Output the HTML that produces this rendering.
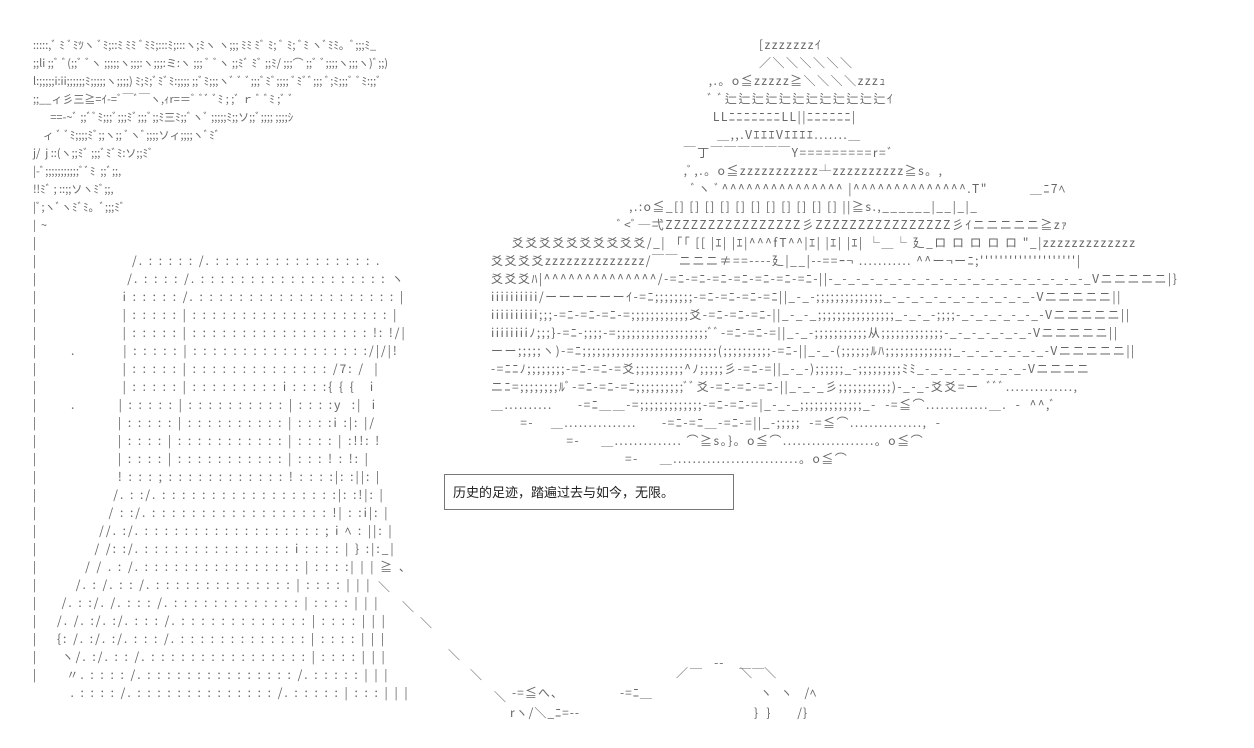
<!DOCTYPE html>
<html><head><meta charset="utf-8"><style>
html,body{margin:0;padding:0;background:#fff;width:1254px;height:748px;overflow:hidden}
pre{position:absolute;margin:0;font-family:"Noto Sans CJK JP","WenQuanYi Zen Hei",sans-serif;line-height:18px;color:#666;white-space:pre}
.l{font-size:11px;letter-spacing:0px}
.f{font-size:12px;letter-spacing:2px}
.s{font-size:12px;letter-spacing:1.5px}
.a{position:absolute;font-family:"Noto Sans CJK JP",sans-serif;font-size:12px;color:#666;white-space:pre;line-height:18px;letter-spacing:1px}
.box{position:absolute;left:444px;top:474px;width:290px;height:36px;border:1px solid #777;font-family:"Liberation Sans","Noto Sans CJK SC",sans-serif;font-size:13px;line-height:36px;padding-left:8px;box-sizing:border-box;color:#222}
</style></head><body>
<pre class="l" style="left:33px;top:36px">:::::,ﾞ ﾐ ﾞﾐﾂヽ ﾞﾐ;::ﾐ ﾐﾐ ﾞﾐﾐ;:::ﾐ;:::ヽ;ﾐヽ ヽ;;; ﾐﾐ ﾐﾞ ﾐ; ﾞ ﾐ; ﾞﾐ ヽﾞﾐﾐ。ﾞ;;;ﾐ_
;;li ;;ﾞ ﾞ(;;ﾞ ﾞヽ ;;;;;ヽ;;;:ヽ;;;:ミ:ヽ ;;; ﾞ ﾞヽ ;;ﾐﾞ ﾐﾞ ;;ﾐ/ ;;;⌒ ;;ﾞ ﾞ;;;;ヽ;;;ヽ)ﾞ;;)
l:;;;;;i:ii;;;;;;ﾐ;;;;;ヽ;;;;) ﾐ;ﾐ;ﾞﾐﾞﾐ:;;;; ;;ﾞﾐ;;;ヽﾞ ﾞ ﾞ;;;ﾞﾐﾞ;;;; ﾞﾐﾞﾞ;;; ﾞ;ﾐ;;;ﾞ ﾞﾐ:;;ﾞ
;;__ィ彡三≧=ｲ-=ﾞ￣ﾞ￣ヽ,ｨr=＝ﾞ ﾞﾞ ﾞﾐ ; ;ﾞ ｒ ﾞ ﾞﾐ ;ﾞ ﾞ
       ==-~ﾞ ;;ﾞﾞﾐ;;;ﾞ;;;ﾐﾞ;;;ﾞ;;ﾐ三ﾐ;;ﾞヽﾞ ;;;;;ﾐ;;ソ;;ﾞ;;;; ;;;;ｼ
    ィ ﾞ ﾞﾐ;;;;ﾐﾞ;;ヽ;; ﾞヽﾞ;;;;ソィ;;;;ヽﾞﾐﾞ
j/  j ::(ヽ;;ﾐﾞ ;;;ﾞﾐﾞﾐ:ソ;;ﾐﾞ
|-ﾞ;;;;;;;;;;;ﾞﾞﾐ  ;;ﾞ;;,
!!ﾐﾞ ; ::;;ソヽﾐﾞ;;,
|ﾞ;ヽﾞヽﾐﾞﾐ。ﾞ;;;ﾐﾞ
|  ~
</pre>
<pre class="f" style="left:33px;top:234px">|
|                    /. : : : : : /. : : : : : : : : : : : : : : : : .
|                   /. : : : : /. : : : : : : : : : : : : : : : : : : : ヽ
|                  i : : : : : /. : : : : : : : : : : : : : : : : : : : : |
|                  | : : : : : | : : : : : : : : : : : : : : : : : : : : |
|                  | : : : : : | : : : : : : : : : : : : : : : : : : !: !/|
|       .          | : : : : : | : : : : : : : : : : : : : : : : : :/|/|!
|                  | : : : : : | : : : : : : : : : : : : : : /7: /  |
|                  | : : : : : | : : : : : : : : : i : : : :{ { {   i
|       .         | : : : : : | : : : : : : : : : : | : : : :y  :|  i
|                 | : : : : : | : : : : : : : : : : | : : : :i :|: |/
|                 | : : : : | : : : : : : : : : : : | : : : : | :!!: !
|                 | : : : : | : : : : : : : : : : : | : : : ! : !: |
|                 ! : : : ; : : : : : : : : : : : : ! : : : :|: :||: |
|                /. : :/. : : : : : : : : : : : : : : : : : :|: :!|: |
|               / : :/. : : : : : : : : : : : : : : : : : : !| : :i|: |
|             //. :/. : : : : : : : : : : : : : : : : : : ; i ﾍ : ||: |
|            / /: :/. : : : : : : : : : : : : : : : i : : : : | } :|:_|
|          / / . : /. : : : : : : : : : : : : : : : : | : : : :| | | ≧ 、
|        /. : /. : : /. : : : : : : : : : : : : : : | : : : : | | |
|     /. : :/. /. : : : /. : : : : : : : : : : : : : | : : : : | | |
|    /. /. :/. :/. : : : /. : : : : : : : : : : : : : | : : : : | | |
|    {: /. :/. :/. : : : /. : : : : : : : : : : : : : | : : : : | | |
|     ヽ/. :/. : : /. : : : : : : : : : : : : : : : : | : : : : | | |
|      〃. : : : : /. : : : : : : : : : : : : : : : /. : : : : : | | |
        . : : : : /. : : : : : : : : : : : : : : /. : : : : : | : : : | | |
</pre>
<pre class="s" style="left:470px;top:36px">                                                                     [zzzzzzzｲ
                                                                     ／＼＼＼＼＼＼
                                                         ,.。o≦zzzzz≧＼＼＼＼zzzｭ
                                                         ﾞ ﾞ辷辷辷辷辷辷辷辷辷辷辷辷ｲ
                                                          LLﾆﾆﾆﾆﾆﾆﾆLL||ﾆﾆﾆﾆﾆﾆ|
                                                           ＿,,.VｴｴｴVｴｴｴｴ.......＿
                                                   ￣丁￣￣￣￣￣￣Y=========r=ﾞ
                                                   ,ﾞ,.。o≦zzzzzzzzzzz┴zzzzzzzzzz≧s。,
                                                     ﾞヽ ﾞ^^^^^^^^^^^^^^^ |^^^^^^^^^^^^^^.T"          ＿ﾆ7ﾍ
                                      ,.:o≦_[] [] [] [] [] [] [] [] [] [] [] ||≧s.,______|__|_|_
                                   ﾞ<ﾞ─弌ZZZZZZZZZZZZZZZZ彡ZZZZZZZZZZZZZZZZ彡ｲニニニニニ≧zｧ
          爻爻爻爻爻爻爻爻爻爻/_| 「「 [[ |ｴ| |ｴ|^^^fT^^|ｴ| |ｴ| |ｴ| └＿└ 廴_ロ ロ ロ ロ ロ "_|zzzzzzzzzzzzz
     爻爻爻爻zzzzzzzzzzzzzz/￣￣ニニニ≠==----廴|__|--==ｰ¬ ........... ^^ー¬ーﾆ;''''''''''''''''''''|
     爻爻爻ﾊ|^^^^^^^^^^^^^^/-=ﾆ-=ﾆ-=ﾆ-=ﾆ-=ﾆ-=ﾆ-=ﾆ-||-_-_-_-_-_-_-_-_-_-_-_-_-_-_-_-_-_-_-_Vニニニニニ|}
     iiiiiiiiii/ーーーーーーｲ-=ﾆ;;;;;;;;-=ﾆ-=ﾆ-=ﾆ-=ﾆ||_-_-;;;;;;;;;;;;;;_-_-_-_-_-_-_-_-_-_-_-Vニニニニニ||
     iiiiiiiiii;;;-=ﾆ-=ﾆ-=ﾆ-=;;;;;;;;;;;;爻-=ﾆ-=ﾆ-=ﾆ-||_-_-_;;;;;;;;;;;;;;;;_-_-_-;;;;-_-_-_-_-_-_-Vニニニニニ||
     iiiiiiiiﾉ;;;}-=ﾆ-;;;;-=;;;;;;;;;;;;;;;;;;;ﾞﾞ-=ﾆ-=ﾆ-=||_-_-;;;;;;;;;;;从;;;;;;;;;;;;;-_-_-_-_-_-_-Vニニニニニ||
     ーー;;;;;ヽ)-=ﾆ;;;;;;;;;;;;;;;;;;;;;;;;;;;;(;;;;;;;;;;-=ﾆ-||_-_-(;;;;;;ﾙﾊ;;;;;;;;;;;;;;_-_-_-_-_-_-_-Vニニニニニ||
     -=ﾆﾆﾉ;;;;;;;;-=ﾆ-=ﾆ-=爻;;;;;;;;;;^ﾉ;;;;;彡-=ﾆ-=||_-_-);;;;;;_-;;;;;;;;;ﾐﾐ_-_-_-_-_-_-_-_-Vニニニニ
     ニﾆ=;;;;;;;;ﾙﾞ-=ﾆ-=ﾆ-=ﾆ;;;;;;;;;;ﾞﾞ爻-=ﾆ-=ﾆ-=ﾆ-||_-_-_彡;;;;;;;;;;;)-_-_-爻爻=ー  ﾞﾞﾞ..............,
     ＿..........      -=ﾆ＿＿-=;;;;;;;;;;;;;-=ﾆ-=ﾆ-=|_-_-_;;;;;;;;;;;;;_-  -=≦⌒.............＿.  -  ^^,ﾞ
            =-    ＿...............      -=ﾆ-=ﾆ＿-=ﾆ-=||_-;;;;;  -=≦⌒...............,  -
                       =-     ＿.............. ⌒≧s。}。o≦⌒...................。o≦⌒
                                     =-     ＿..........................。o≦⌒
</pre>
<span class="a" style="left:378px;top:578px">＼</span>
<span class="a" style="left:402px;top:598px">＼</span>
<span class="a" style="left:420px;top:614px">＼</span>
<span class="a" style="left:448px;top:646px">＼</span>
<span class="a" style="left:470px;top:666px">＼</span>
<span class="a" style="left:494px;top:688px">＼</span>
<span class="a" style="left:690px;top:654px">＿   --    ＿＿</span>
<span class="a" style="left:676px;top:664px">／</span>
<span class="a" style="left:740px;top:664px">＼   ＼</span>
<span class="a" style="left:620px;top:684px">-=ﾆ＿</span>
<span class="a" style="left:512px;top:684px">-=≦へ、</span>
<span class="a" style="left:760px;top:684px">ヽ  ヽ   /ﾍ</span>
<span class="a" style="left:510px;top:704px">rヽ/＼_ﾆ=--</span>
<span class="a" style="left:754px;top:704px">}  }       /}</span>
<div class="box">历史的足迹，踏遍过去与如今，无限。</div>
</body></html>
